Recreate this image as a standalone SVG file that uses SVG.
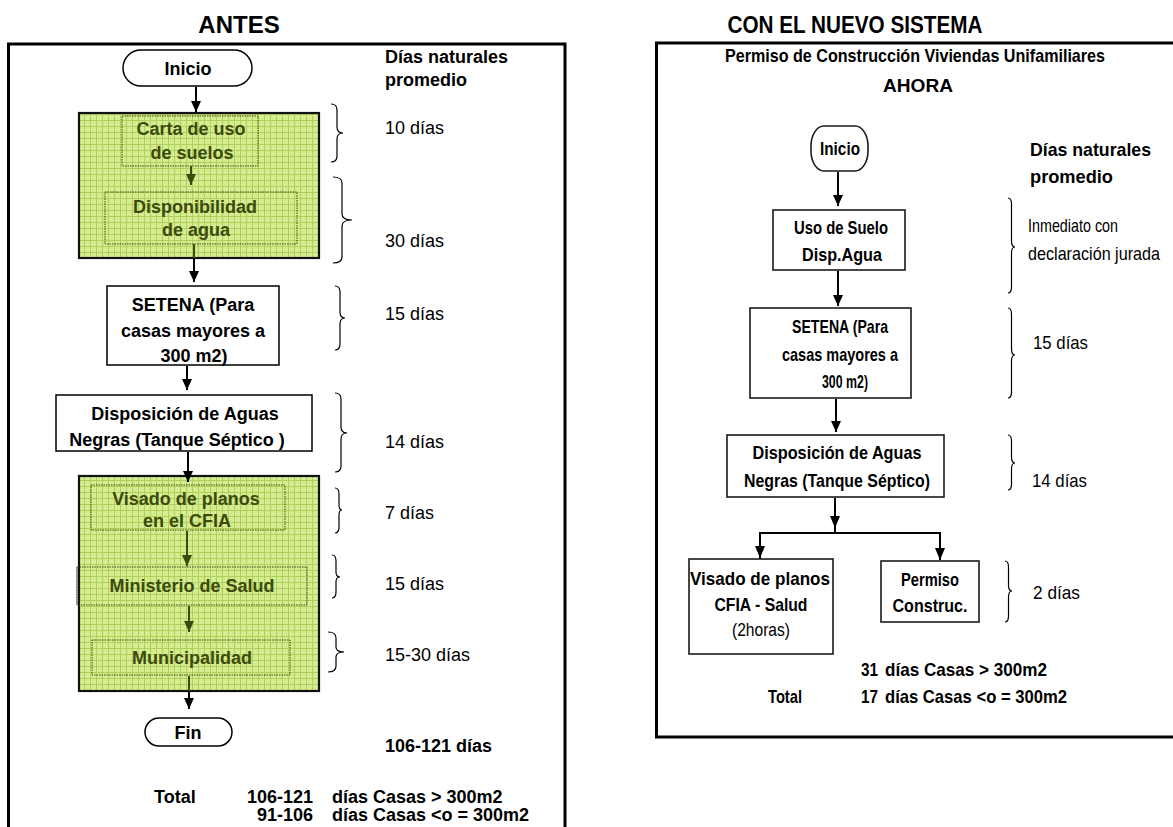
<svg xmlns="http://www.w3.org/2000/svg" width="1173" height="827" viewBox="0 0 1173 827">
<style>
text{font-family:"Liberation Sans",Arial,sans-serif;fill:#000}
.t{font-size:18px;font-weight:bold;text-anchor:middle}
.g{font-size:18px;font-weight:bold;text-anchor:middle;fill:#3c4a0c}
.d{font-size:18px}
.b{font-size:18px;font-weight:bold}
.h{font-size:24px;font-weight:bold;text-anchor:middle}
.r{font-size:19px;font-weight:bold}
.rm{font-size:19px;font-weight:bold;text-anchor:middle}
.rn{font-size:19px}
.box{fill:#fff;stroke:#000;stroke-width:1.5}
.rbox{fill:#fff;stroke:#1a1a1a;stroke-width:1.6}
.gbox{fill:url(#grid);stroke:#111;stroke-width:2.2}
.ibox{fill:none;stroke:#3c4a0c;stroke-width:1;stroke-dasharray:1.5 1}
.frame{fill:none;stroke:#000;stroke-width:3}
.ln{fill:none;stroke:#000;stroke-width:2}
.lo{fill:none;stroke:#3c4a0c;stroke-width:2}
.br{fill:none;stroke:#000;stroke-width:1.2}
</style>
<defs>
<pattern id="grid" width="6" height="6" patternUnits="userSpaceOnUse">
<rect width="6" height="6" fill="#d6ec90"/>
<path d="M0 0.5H6M0.5 0V6" stroke="#afcf5e" stroke-width="1"/>
</pattern>
<marker id="ak" markerUnits="userSpaceOnUse" markerWidth="12" markerHeight="12" refX="11" refY="6" orient="auto" viewBox="0 0 12 12">
<path d="M0 1L11 6L0 11Z" fill="#000"/>
</marker>
<marker id="ao" markerUnits="userSpaceOnUse" markerWidth="12" markerHeight="12" refX="11" refY="6" orient="auto" viewBox="0 0 12 12">
<path d="M0 1L11 6L0 11Z" fill="#3c4a0c"/>
</marker>
</defs>
<rect width="1173" height="827" fill="#fff"/>

<!-- titles and frames -->
<text class="h" x="239" y="33">ANTES</text>
<text class="h" x="855" y="33" textLength="255" lengthAdjust="spacingAndGlyphs">CON EL NUEVO SISTEMA</text>
<path class="frame" d="M8.5 835V44H565V835"/>
<path class="frame" d="M1180 43H656.5V737H1180"/>

<!-- LEFT PANEL -->
<g id="l-inicio"><rect class="box" x="123" y="50" width="129" height="36" rx="18"/><text class="t" x="188" y="75">Inicio</text></g>
<g id="l-green1"><rect class="gbox" x="79" y="113" width="240" height="145"/></g>
<g id="l-carta"><rect class="ibox" x="122" y="116" width="136" height="50"/><text class="g" x="191" y="135">Carta de uso</text><text class="g" x="192" y="159">de suelos</text></g>
<g id="l-dispon"><rect class="ibox" x="105" y="192" width="192" height="52"/><text class="g" x="195" y="213">Disponibilidad</text><text class="g" x="196" y="236">de agua</text></g>
<g id="l-setena"><rect class="box" x="107" y="286" width="172" height="79"/><text class="t" x="193" y="311">SETENA (Para</text><text class="t" x="193" y="337">casas mayores a</text><text class="t" x="194" y="362">300 m2)</text></g>
<g id="l-disposicion"><rect class="box" x="56" y="395" width="256" height="56"/><text class="t" x="185" y="420">Disposición de Aguas</text><text class="t" x="177" y="446">Negras (Tanque Séptico )</text></g>
<g id="l-green2"><rect class="gbox" x="79" y="476" width="240" height="215"/></g>
<g id="l-visado"><rect class="ibox" x="91" y="485" width="194" height="45"/><text class="g" x="186" y="505">Visado de planos</text><text class="g" x="187" y="527">en el CFIA</text></g>
<g id="l-ministerio"><rect class="ibox" x="77" y="567" width="230" height="38"/><path d="M77 567V605" stroke="#777" stroke-width="1.2"/><text class="g" x="192" y="592">Ministerio de Salud</text></g>
<g id="l-municipalidad"><rect class="ibox" x="92" y="640" width="198" height="35"/><text class="g" x="192" y="664">Municipalidad</text></g>
<g id="l-fin"><rect class="box" x="145" y="718" width="87" height="28" rx="14"/><text class="t" x="188" y="739">Fin</text></g>

<g id="l-days">
<text class="b" x="385" y="63">Días naturales</text>
<text class="b" x="385" y="86">promedio</text>
<text class="d" x="385" y="134">10 días</text>
<text class="d" x="385" y="247">30 días</text>
<text class="d" x="385" y="320">15 días</text>
<text class="d" x="385" y="448">14 días</text>
<text class="d" x="385" y="519">7 días</text>
<text class="d" x="385" y="590">15 días</text>
<text class="d" x="385" y="661">15-30 días</text>
<text class="b" x="385" y="752">106-121 días</text>
<text class="b" x="154" y="803">Total</text>
<text class="b" x="247" y="803">106-121</text>
<text class="b" x="332" y="803">días Casas &gt; 300m2</text>
<text class="b" x="257" y="821">91-106</text>
<text class="b" x="332" y="821">días Casas &lt;o = 300m2</text>
</g>
<g id="l-braces">
<path class="br" d="M331 104Q337 104 337 110V127Q337 133 343 133Q337 133 337 139V156Q337 162 331 162"/>
<path class="br" d="M333 177Q342 177 342 183V214Q342 220 352 220Q342 220 342 226V257Q342 263 333 263"/>
<path class="br" d="M335 286Q340 286 340 292V312Q340 318 345 318Q340 318 340 324V344Q340 350 335 350"/>
<path class="br" d="M335 393Q341 393 341 399V427Q341 433 347 433Q341 433 341 439V466Q341 472 335 472"/>
<path class="br" d="M335 488Q339 488 339 494V505Q339 510 342 510Q339 510 339 515V527Q339 533 335 533"/>
<path class="br" d="M332 555Q336 555 336 561V572Q336 577 340 577Q336 577 336 582V592Q336 598 332 598"/>
<path class="br" d="M328 632Q336 632 336 638V647Q336 652 344 652Q336 652 336 657V666Q336 672 328 672"/>
</g>

<!-- RIGHT PANEL -->
<g id="r-title">
<text class="rm" x="915" y="62" textLength="380" lengthAdjust="spacingAndGlyphs">Permiso de Construcción Viviendas Unifamiliares</text>
<text class="rm" x="918" y="92" textLength="70" lengthAdjust="spacingAndGlyphs">AHORA</text>
</g>
<g id="r-inicio"><rect class="rbox" x="811" y="126" width="57" height="45" rx="13" ry="20"/><text class="rm" x="840" y="155" textLength="40" lengthAdjust="spacingAndGlyphs">Inicio</text></g>
<g id="r-uso"><rect class="rbox" x="773" y="210" width="132" height="60"/><text class="rm" x="841" y="234" textLength="94" lengthAdjust="spacingAndGlyphs">Uso de Suelo</text><text class="rm" x="842" y="261" textLength="80" lengthAdjust="spacingAndGlyphs">Disp.Agua</text></g>
<g id="r-setena"><rect class="rbox" x="750" y="308" width="161" height="90"/><text class="rm" x="840" y="333" textLength="96" lengthAdjust="spacingAndGlyphs">SETENA (Para</text><text class="rm" x="840" y="361" textLength="116" lengthAdjust="spacingAndGlyphs">casas mayores a</text><text class="rm" x="845" y="388" textLength="46" lengthAdjust="spacingAndGlyphs">300 m2)</text></g>
<g id="r-disposicion"><rect class="rbox" x="727" y="435" width="217" height="62"/><text class="rm" x="837" y="459" textLength="169" lengthAdjust="spacingAndGlyphs">Disposición de Aguas</text><text class="rm" x="837" y="487" textLength="186" lengthAdjust="spacingAndGlyphs">Negras (Tanque Séptico)</text></g>
<g id="r-visado"><rect class="rbox" x="689" y="559" width="144" height="95"/><text class="rm" x="760" y="585" textLength="140" lengthAdjust="spacingAndGlyphs">Visado de planos</text><text class="rm" x="761" y="611" textLength="93" lengthAdjust="spacingAndGlyphs">CFIA - Salud</text><text class="rn" x="761" y="636" text-anchor="middle" textLength="58" lengthAdjust="spacingAndGlyphs">(2horas)</text></g>
<g id="r-permiso"><rect class="rbox" x="881" y="561" width="98" height="61"/><text class="rm" x="930" y="586" textLength="58" lengthAdjust="spacingAndGlyphs">Permiso</text><text class="rm" x="930" y="612" textLength="75" lengthAdjust="spacingAndGlyphs">Construc.</text></g>
<g id="r-days">
<text class="r" x="1030" y="156" textLength="121" lengthAdjust="spacingAndGlyphs">Días naturales</text>
<text class="r" x="1030" y="183" textLength="83" lengthAdjust="spacingAndGlyphs">promedio</text>
<text class="rn" x="1028" y="232" textLength="90" lengthAdjust="spacingAndGlyphs">Inmediato con</text>
<text class="rn" x="1028" y="260" font-size="16" textLength="132" lengthAdjust="spacingAndGlyphs">declaración jurada</text>
<text class="rn" x="1033" y="349" textLength="55" lengthAdjust="spacingAndGlyphs">15 días</text>
<text class="rn" x="1032" y="487" textLength="55" lengthAdjust="spacingAndGlyphs">14 días</text>
<text class="rn" x="1033" y="599" textLength="47" lengthAdjust="spacingAndGlyphs">2 días</text>
<text class="r" x="861" y="676" textLength="17" lengthAdjust="spacingAndGlyphs">31</text>
<text class="r" x="885" y="676" textLength="162" lengthAdjust="spacingAndGlyphs">días Casas &gt; 300m2</text>
<text class="r" x="768" y="703" textLength="34" lengthAdjust="spacingAndGlyphs">Total</text>
<text class="r" x="861" y="703" textLength="17" lengthAdjust="spacingAndGlyphs">17</text>
<text class="r" x="885" y="703" textLength="182" lengthAdjust="spacingAndGlyphs">días Casas &lt;o = 300m2</text>
</g>
<g id="r-braces">
<path class="br" d="M1008 198Q1011.5 198 1011.5 204V241Q1011.5 247 1015 247Q1011.5 247 1011.5 253V287Q1011.5 293 1008 293"/>
<path class="br" d="M1008 308Q1011.5 308 1011.5 314V349Q1011.5 355 1015 355Q1011.5 355 1011.5 361V392Q1011.5 398 1008 398"/>
<path class="br" d="M1008 435Q1011.5 435 1011.5 441V457Q1011.5 463 1015 463Q1011.5 463 1011.5 469V484Q1011.5 490 1008 490"/>
<path class="br" d="M1005 561Q1008.5 561 1008.5 567V585Q1008.5 591 1012 591Q1008.5 591 1008.5 597V616Q1008.5 622 1005 622"/>
</g>

<g id="connectors">
<path class="ln" d="M196 87V112" marker-end="url(#ak)"/>
<path class="lo" d="M191 166V185" marker-end="url(#ao)"/>
<path class="lo" d="M194 244V258"/>
<path class="ln" d="M194 258V282" marker-end="url(#ak)"/>
<path class="ln" d="M187 366V390" marker-end="url(#ak)"/>
<path class="ln" d="M188 452V482" marker-end="url(#ak)"/>
<path class="lo" d="M187 531V566" marker-end="url(#ao)"/>
<path class="lo" d="M189 606V632" marker-end="url(#ao)"/>
<path class="lo" d="M189 676V691"/>
<path class="ln" d="M189 691V709" marker-end="url(#ak)"/>
<path class="ln" d="M838 172V206" marker-end="url(#ak)"/>
<path class="ln" d="M838 271V306" marker-end="url(#ak)"/>
<path class="ln" d="M836 399V432" marker-end="url(#ak)"/>
<path class="ln" d="M835 498V533"/>
<path d="M830 516H840L835 528Z" fill="#000"/>
<path class="ln" d="M760 559V533H940V560"/>
<path d="M755 546H765L760 558Z" fill="#000"/>
<path d="M935 548H945L940 560Z" fill="#000"/>
</g>
</svg>
